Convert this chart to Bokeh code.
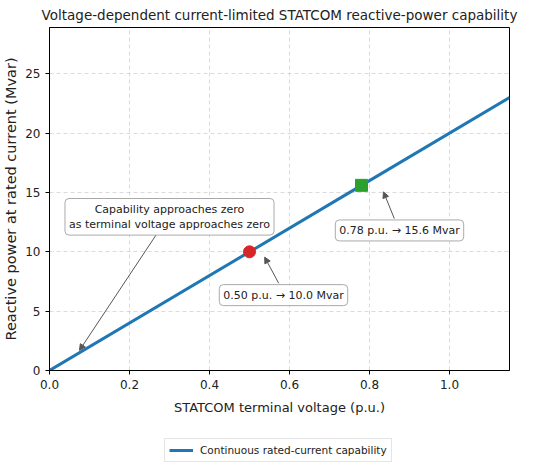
from bokeh.plotting import figure
from bokeh.layouts import column
from bokeh.models import (Range1d, FixedTicker, NumeralTickFormatter, Label, Arrow,
                          NormalHead, Legend, LegendItem)
from bokeh.embed import file_html
from bokeh.resources import INLINE

# ---- data ----
voltage = [0.0, 0.5, 0.78, 1.15]
q_mvar = [0.0, 10.0, 15.6, 23.0]
pt1_v, pt1_q = [0.50], [10.0]
pt2_v, pt2_q = [0.78], [15.6]
x_ticks = [0.0, 0.2, 0.4, 0.6, 0.8, 1.0]
y_ticks = [0, 5, 10, 15, 20, 25]

ann_texts = ["Capability approaches zero\nas terminal voltage approaches zero",
             "0.50 p.u. \u2192 10.0 Mvar",
             "0.78 p.u. \u2192 15.6 Mvar"]
ann_text_xy = [(0.30, 12.95), (0.585, 6.35), (0.875, 11.8)]
ann_tail_xy = [(0.268, 11.5), (0.573, 7.35), (0.862, 12.8)]
ann_head_xy = [(0.075, 1.7), (0.538, 9.55), (0.835, 15.05)]
legend_label = "Continuous rated-current capability"

FONT = "DejaVu Sans"
BLUE = "#1f77b4"

p = figure(frame_width=460, frame_height=343, output_backend="svg", toolbar_location=None,
           x_range=Range1d(0, 1.15), y_range=Range1d(0, 28.9),
           min_border_left=40, min_border_right=34, min_border_top=19, min_border_bottom=0,
           title="Voltage-dependent current-limited STATCOM reactive-power capability")

p.title.text_font = FONT
p.title.text_font_size = "13.5px"
p.title.text_font_style = "normal"
p.title.align = "center"
p.title.text_color = "#222222"
p.title.standoff = 9

p.outline_line_color = "black"
p.outline_line_alpha = 1.0
p.background_fill_color = "white"

p.xaxis.ticker = FixedTicker(ticks=x_ticks)
p.yaxis.ticker = FixedTicker(ticks=y_ticks)
p.xaxis.formatter = NumeralTickFormatter(format="0.0")
for ax in (p.xaxis, p.yaxis):
    ax.major_label_text_font = FONT
    ax.major_label_text_font_size = "12px"
    ax.major_label_text_color = "#222222"
    ax.axis_label_text_font = FONT
    ax.axis_label_text_font_style = "normal"
    ax.axis_label_text_color = "#222222"
    ax.minor_tick_line_color = None
    ax.major_tick_in = 0
    ax.major_tick_out = 4
    ax.axis_line_color = "black"
    ax.major_tick_line_color = "black"
p.xaxis.axis_label = "STATCOM terminal voltage (p.u.)"
p.yaxis.axis_label = "Reactive power at rated current (Mvar)"
p.xaxis.axis_label_text_font_size = "13px"
p.yaxis.axis_label_text_font_size = "14.5px"
p.xaxis.axis_label_standoff = 8
p.yaxis.axis_label_standoff = 3

p.grid.grid_line_color = "#b0b0b0"
p.grid.grid_line_alpha = 0.45
p.grid.grid_line_dash = "4 3"

p.line(voltage, q_mvar, line_color=BLUE, line_width=3)
p.scatter(pt1_v, pt1_q, marker="circle", size=12, fill_color="#d62728", line_color="#d62728")
p.scatter(pt2_v, pt2_q, marker="square", size=12, fill_color="#2ca02c", line_color="#2ca02c")

for txt, (tx, ty), (sx, sy), (hx, hy) in zip(ann_texts, ann_text_xy, ann_tail_xy, ann_head_xy):
    p.add_layout(Arrow(end=NormalHead(size=6, fill_color="#555555", line_color="#555555"),
                       x_start=sx, y_start=sy, x_end=hx, y_end=hy,
                       line_color="#555555", line_width=1))
    p.add_layout(Label(x=tx, y=ty, text=txt, text_align="center", text_baseline="middle",
                       text_font=FONT, text_font_size="11px", text_color="#222222",
                       background_fill_color="white", border_line_color="#aaaaaa",
                       border_line_width=1, padding=4, border_radius=4))

# ---- legend strip below the chart (its line is drawn outside the strip's view) ----
p2 = figure(width=534, height=46, output_backend="svg", toolbar_location=None,
            x_range=Range1d(0, 1), y_range=Range1d(100, 101), min_border=0,
            x_axis_location=None, y_axis_location=None)
p2.grid.visible = False
p2.outline_line_color = None
leg_line = p2.line(voltage, q_mvar, line_color=BLUE, line_width=3)
legend = Legend(items=[LegendItem(label=legend_label, renderers=[leg_line])],
                location=(115, 1), orientation="horizontal")
legend.label_text_font = FONT
legend.label_text_font_size = "10.5px"
legend.label_text_color = "#222222"
legend.border_line_color = "#cccccc"
legend.glyph_width = 24
legend.glyph_height = 14
legend.label_height = 14
legend.label_standoff = 7
legend.padding = 4
legend.margin = 0
p2.add_layout(legend, "center")

layout = column(p, p2, spacing=0)
open("out.html", "w").write(file_html(layout, INLINE))
